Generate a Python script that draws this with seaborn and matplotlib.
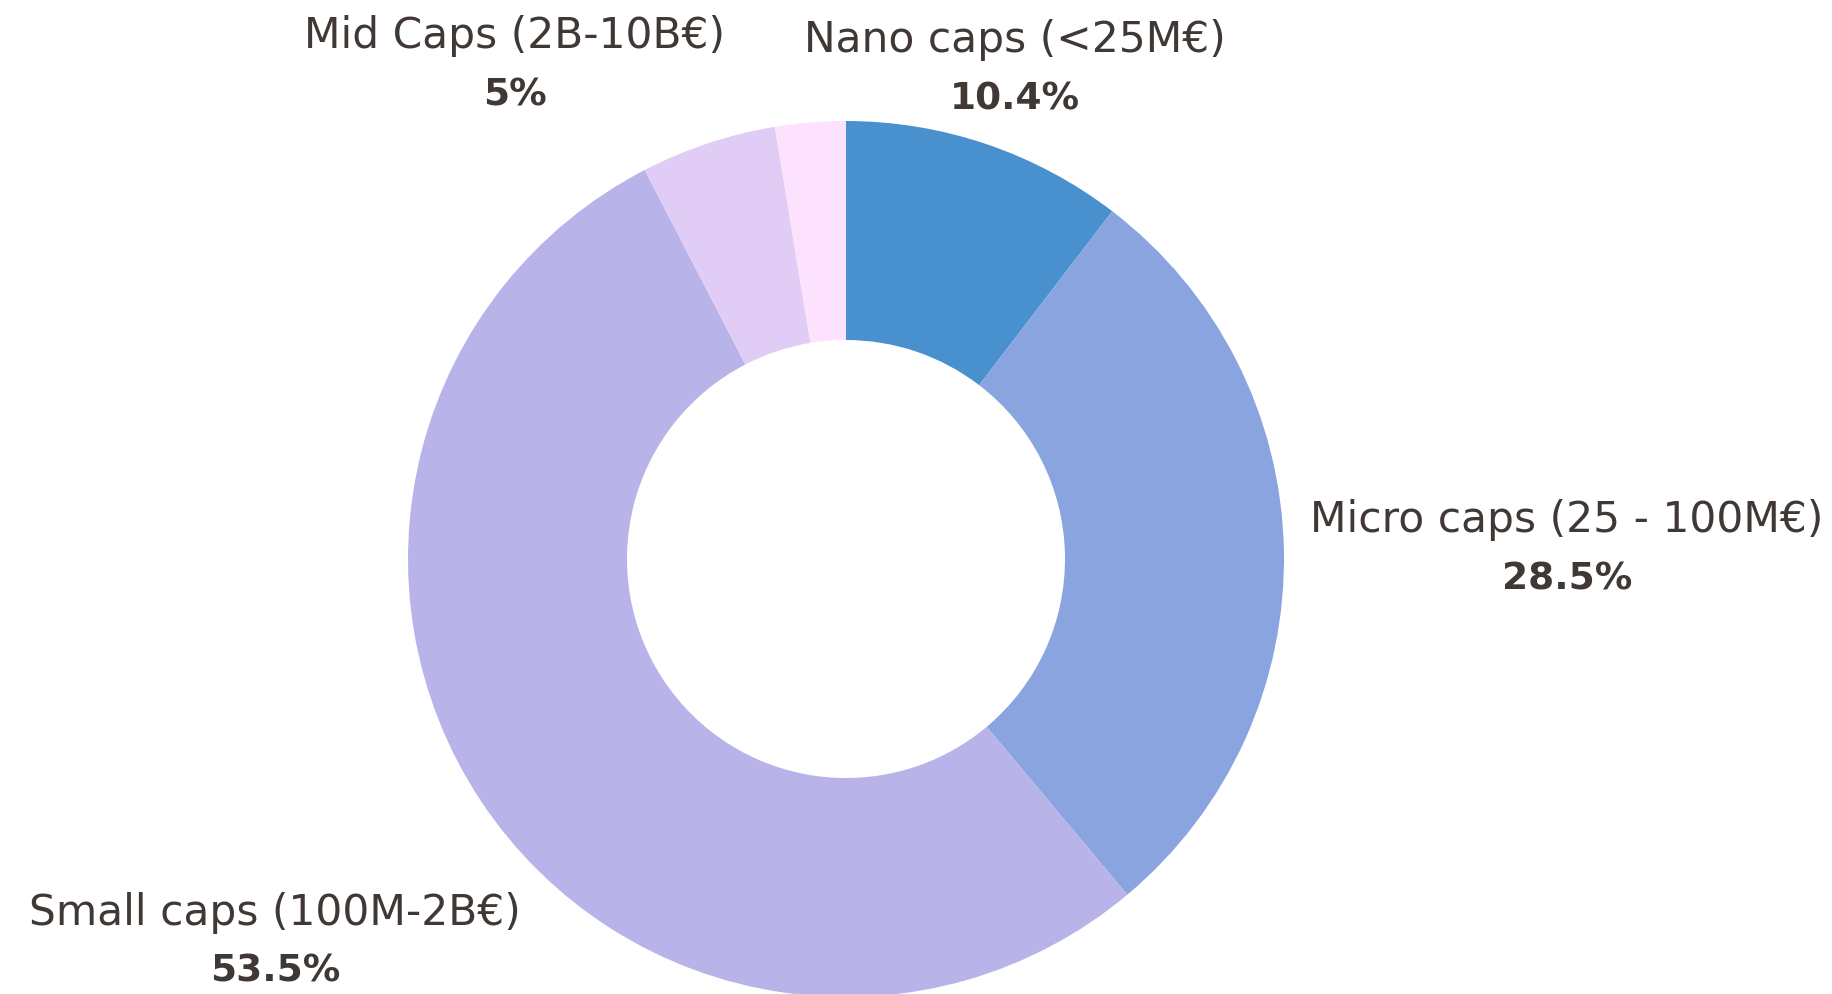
import matplotlib
matplotlib.use("Agg")
from matplotlib import pyplot as plt
import seaborn as sns

categories = ["Nano caps (<25M€)", "Micro caps (25 - 100M€)", "Small caps (100M-2B€)",
              "Mid Caps (2B-10B€)", "Large caps"]
shares = [10.4, 28.5, 53.5, 5.0, 2.6]
pct_labels = ["10.4%", "28.5%", "53.5%", "5%", None]
colors = ["#4891ce", "#8aa4e0", "#b8b4ea", "#e0ccf4", "#fde2fd"]

# label anchor positions in pixels (x centre, y of name line), layout only
label_px = [(1015, 40), (1567, 520), (275, 913), (515, 36), None]

sns.set_theme(style="white")
plt.rcParams['font.family'] = ['DejaVu Sans']

W, H = 1833, 995
fig = plt.figure(figsize=(W / 100, H / 100), dpi=100)
cx, cy, r = 846, 560, 438
ax = fig.add_axes([(cx - r) / W, (H - cy - r) / H, 2 * r / W, 2 * r / H])

ax.pie(shares, colors=colors, startangle=90, counterclock=False, radius=1,
       wedgeprops=dict(width=0.5, linewidth=0))
ax.set_xlim(-1, 1)
ax.set_ylim(-1, 1)
ax.axis('off')

txt_color = "#403834"
for name, pct, pos in zip(categories, pct_labels, label_px):
    if pos is None:
        continue
    x, y = pos
    fig.text(x / W, 1 - y / H, name, ha='center', va='center', fontsize=30.5,
             color=txt_color, fontweight='normal')
    fig.text(x / W, 1 - (y + 59) / H, pct, ha='center', va='center', fontsize=27,
             color=txt_color, fontweight='bold')

fig.savefig("out.png", dpi=100, facecolor='white')
